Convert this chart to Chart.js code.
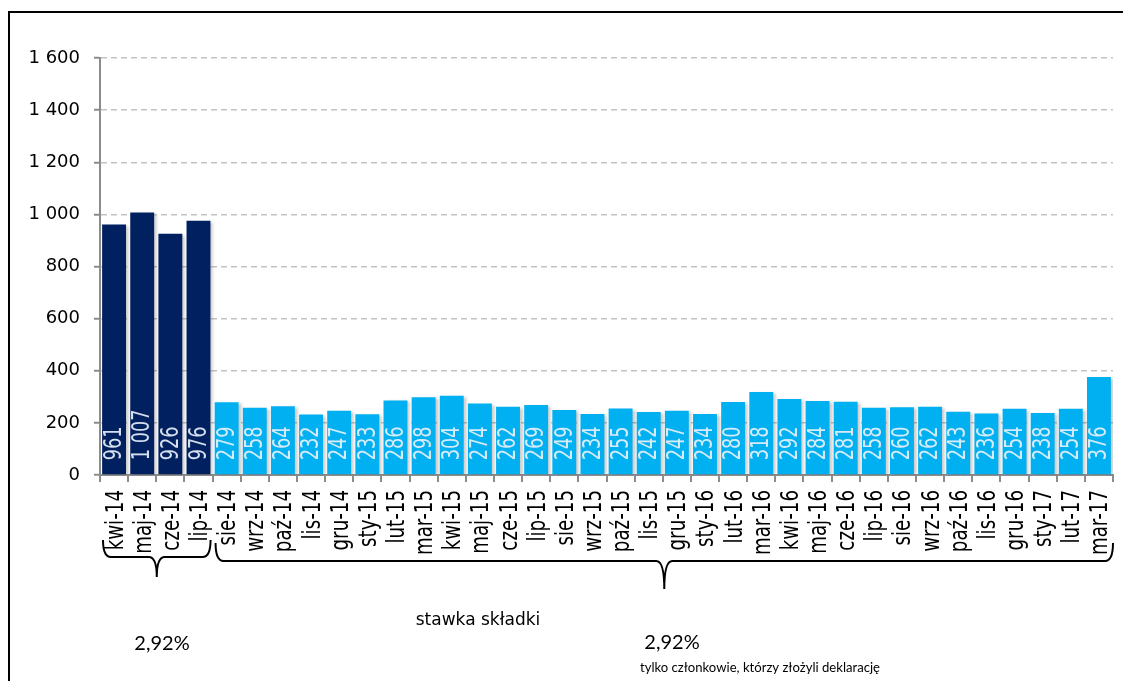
<!DOCTYPE html>
<html lang="pl">
<head>
  <meta charset="UTF-8">
  <title>Składki</title>
  <script src="https://cdn.jsdelivr.net/npm/chart.js"></script>
  <style>
    html, body { margin: 0; padding: 0; background: #fff; }
    canvas { display: block; }
  </style>
</head>
<body>
  <canvas id="chart" width="1123" height="681"></canvas>

  <script>
    // Monthly values
    const months = ['kwi-14', 'maj-14', 'cze-14', 'lip-14', 'sie-14', 'wrz-14', 'paź-14', 'lis-14', 'gru-14',
      'sty-15', 'lut-15', 'mar-15', 'kwi-15', 'maj-15', 'cze-15', 'lip-15', 'sie-15', 'wrz-15', 'paź-15',
      'lis-15', 'gru-15', 'sty-16', 'lut-16', 'mar-16', 'kwi-16', 'maj-16', 'cze-16', 'lip-16', 'sie-16',
      'wrz-16', 'paź-16', 'lis-16', 'gru-16', 'sty-17', 'lut-17', 'mar-17'];
    const values = [961, 1007, 926, 976, 279, 258, 264, 232, 247, 233, 286, 298, 304, 274, 262, 269, 249,
      234, 255, 242, 247, 234, 280, 318, 292, 284, 281, 258, 260, 262, 243, 236, 254, 238, 254, 376];
    // first 4 months belong to the earlier period
    const earlyCount = 4;
    const yTicks = [0, 200, 400, 600, 800, 1000, 1200, 1400, 1600];

    const NAVY = '#002060';
    const BLUE = '#00b0f0';
    const barColors = values.map((v, i) => i < earlyCount ? NAVY : BLUE);

    const fmt = v => String(v).replace(/\B(?=(\d{3})+(?!\d))/g, ' ');

    // upright text drawn tall and narrow along its length
    function drawVertical(ctx, text, x, y, font, squeeze, align) {
      ctx.save();
      ctx.font = font;
      ctx.textAlign = align;
      ctx.textBaseline = 'middle';
      ctx.translate(x, y);
      ctx.rotate(-Math.PI / 2);
      ctx.scale(squeeze, 1);
      ctx.fillText(text, 0, 1);
      ctx.restore();
    }

    // soft shadow behind the bars
    const barShadow = {
      id: 'barShadow',
      beforeDatasetsDraw(chart) {
        const ctx = chart.ctx;
        ctx.save();
        ctx.shadowColor = 'rgba(0,0,0,0.22)';
        ctx.shadowBlur = 3;
        ctx.shadowOffsetX = 3;
        ctx.shadowOffsetY = 1;
      },
      afterDatasetsDraw(chart) {
        chart.ctx.restore();
      }
    };

    // value labels at the foot of each bar, month names under the axis
    const verticalLabels = {
      id: 'verticalLabels',
      afterDatasetsDraw(chart) {
        const ctx = chart.ctx;
        const meta = chart.getDatasetMeta(0);
        const x = chart.scales.x;
        ctx.save();
        ctx.fillStyle = 'rgba(232,240,250,0.92)';
        meta.data.forEach((bar, i) => {
          drawVertical(ctx, fmt(values[i]), bar.x, bar.base - 14, '24px "DejaVu Sans"', 0.74, 'left');
        });
        ctx.fillStyle = '#000';
        months.forEach((m, i) => {
          drawVertical(ctx, m, x.getPixelForValue(i) + 1, x.top + 15, '25px "DejaVu Sans"', 0.73, 'right');
        });
        ctx.restore();
      }
    };

    function drawBrace(ctx, x1, x2, xc, yTop, yMid, yTip) {
      const r = 8;
      ctx.beginPath();
      ctx.moveTo(x1, yTop);
      ctx.quadraticCurveTo(x1, yMid, x1 + r, yMid);
      ctx.lineTo(xc - r, yMid);
      ctx.quadraticCurveTo(xc, yMid, xc, yTip);
      ctx.quadraticCurveTo(xc, yMid, xc + r, yMid);
      ctx.lineTo(x2 - r, yMid);
      ctx.quadraticCurveTo(x2, yMid, x2, yTop);
      ctx.stroke();
    }

    // frame, period braces and rate notes
    const annotations = {
      id: 'annotations',
      afterDraw(chart) {
        const ctx = chart.ctx;
        const x = chart.scales.x;
        const half = (x.getPixelForValue(1) - x.getPixelForValue(0)) / 2;
        ctx.save();
        ctx.strokeStyle = '#000';
        ctx.lineWidth = 2;

        ctx.beginPath();
        ctx.moveTo(9, 681);
        ctx.lineTo(9, 12);
        ctx.lineTo(1123, 12);
        ctx.stroke();

        const a1 = x.getPixelForValue(0) - half + 3;
        const a2 = x.getPixelForValue(earlyCount - 1) + half - 2;
        drawBrace(ctx, a1, a2, (a1 + a2) / 2, 540, 557, 577);
        const b1 = x.getPixelForValue(earlyCount) - half + 3;
        const b2 = x.getPixelForValue(values.length - 1) + half;
        drawBrace(ctx, b1, b2, (b1 + b2) / 2, 543, 561, 589);

        ctx.fillStyle = '#000';
        ctx.textAlign = 'center';
        ctx.textBaseline = 'alphabetic';
        ctx.font = '17px "DejaVu Sans"';
        ctx.fillText('stawka składki', 478, 625, 132);
        ctx.font = '20px Lato';
        ctx.fillText('2,92%', 162, 650);
        ctx.fillText('2,92%', 672, 649);
        ctx.textAlign = 'left';
        ctx.font = '14px Lato';
        ctx.fillText('tylko członkowie, którzy złożyli deklarację', 640, 672, 240);
        ctx.restore();
      }
    };

    new Chart(document.getElementById('chart'), {
      type: 'bar',
      data: {
        labels: months,
        datasets: [{
          data: values,
          backgroundColor: barColors,
          borderWidth: 0,
          barPercentage: 0.85,
          categoryPercentage: 1.0
        }]
      },
      options: {
        responsive: false,
        animation: false,
        layout: { padding: { top: 58, right: 10, left: 0, bottom: 0 } },
        plugins: {
          legend: { display: false },
          tooltip: { enabled: false }
        },
        scales: {
          x: {
            ticks: { display: false },
            grid: {
              offset: true,
              drawOnChartArea: false,
              tickLength: 7,
              color: '#8c8c8c',
              lineWidth: 2
            },
            border: { color: '#8c8c8c', width: 2 },
            afterFit(scale) { scale.height = 681 - 475; }
          },
          y: {
            min: 0,
            max: 1600,
            afterBuildTicks(scale) { scale.ticks = yTicks.map(v => ({ value: v })); },
            ticks: {
              color: '#000',
              font: { family: '"DejaVu Sans"', size: 18 },
              padding: 14,
              callback: v => fmt(v)
            },
            grid: {
              color: '#c3c3c3',
              lineWidth: 1.5,
              tickLength: 6,
              tickColor: '#8c8c8c',
              tickWidth: 2
            },
            border: { color: '#8c8c8c', width: 2, dash: [6, 4] },
            afterFit(scale) { scale.width = 100; }
          }
        }
      },
      plugins: [barShadow, verticalLabels, annotations]
    });
  </script>
</body>
</html>
